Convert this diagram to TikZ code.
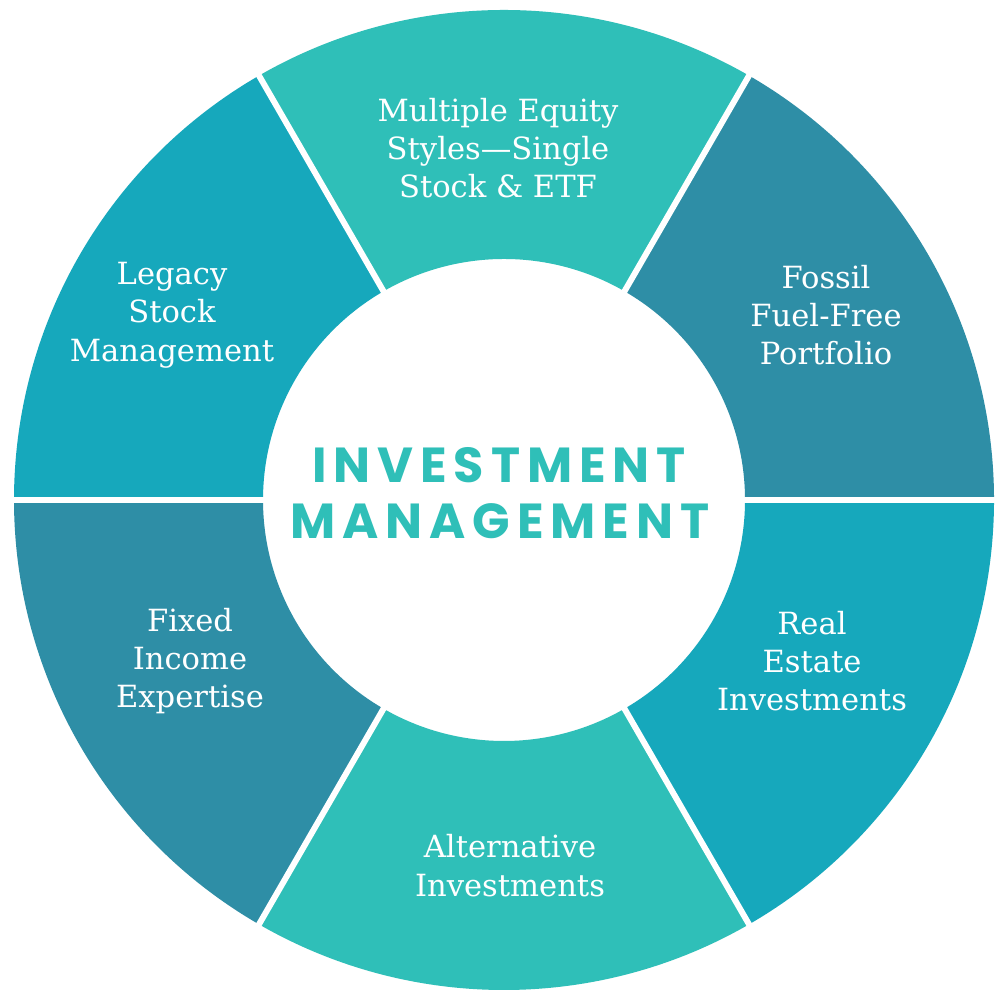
\documentclass[tikz,border=0pt]{standalone}
\usepackage{fontspec}
\newfontfamily\labelfont{DejaVu Serif}
\newfontfamily\titlefont[LetterSpace=14]{Poppins}
\definecolor{lightteal}{RGB}{47,191,184}
\definecolor{midteal}{RGB}{22,168,188}
\definecolor{darkteal}{RGB}{46,142,166}
\tikzset{
  seglabel/.style={text=white, align=center, font=\labelfont\fontsize{8.7pt}{10.9pt}\selectfont, inner sep=0pt},
  titlelabel/.style={text=lightteal, font=\titlefont\bfseries\fontsize{14pt}{16pt}\selectfont, inner sep=0pt},
  gap/.style={white, line width=1.7pt}
}
\newcommand{\ringsector}[3]{%
  \fill[#3] (#1:4.90) arc[start angle=#1, end angle=#2, radius=4.90]
    -- (#2:2.41) arc[start angle=#2, end angle=#1, radius=2.41] -- cycle;}
\begin{document}
\begin{tikzpicture}
\useasboundingbox (0,0) rectangle (10,10);
\fill[white] (0,0) rectangle (10,10);
\begin{scope}[shift={(5.04,5.00)}]
  \ringsector{0}{60}{darkteal}
  \ringsector{60}{120}{lightteal}
  \ringsector{120}{180}{midteal}
  \ringsector{180}{240}{darkteal}
  \ringsector{240}{300}{lightteal}
  \ringsector{300}{360}{midteal}
  \foreach \a in {0,60,...,300}{\draw[gap] (\a:2.3) -- (\a:5.0);}
\end{scope}
\node[seglabel] (equity) at (4.98,8.52) {Multiple Equity\\Styles—Single\\Stock \& ETF};
\node[seglabel] (legacy) at (1.72,6.85) {Legacy\\Stock\\Management};
\node[seglabel] (fossil) at (8.26,6.85) {Fossil\\Fuel-Free\\Portfolio};
\node[seglabel] (fixed) at (1.90,3.39) {Fixed\\Income\\Expertise};
\node[seglabel] (realestate) at (8.12,3.39) {Real\\Estate\\Investments};
\node[seglabel] (alt) at (5.10,1.345) {Alternative\\Investments};
\node[titlelabel] (title1) at (4.99,5.35) {INVESTMENT};
\node[titlelabel] (title2) at (5.00,4.79) {MANAGEMENT};
\end{tikzpicture}
\end{document}
